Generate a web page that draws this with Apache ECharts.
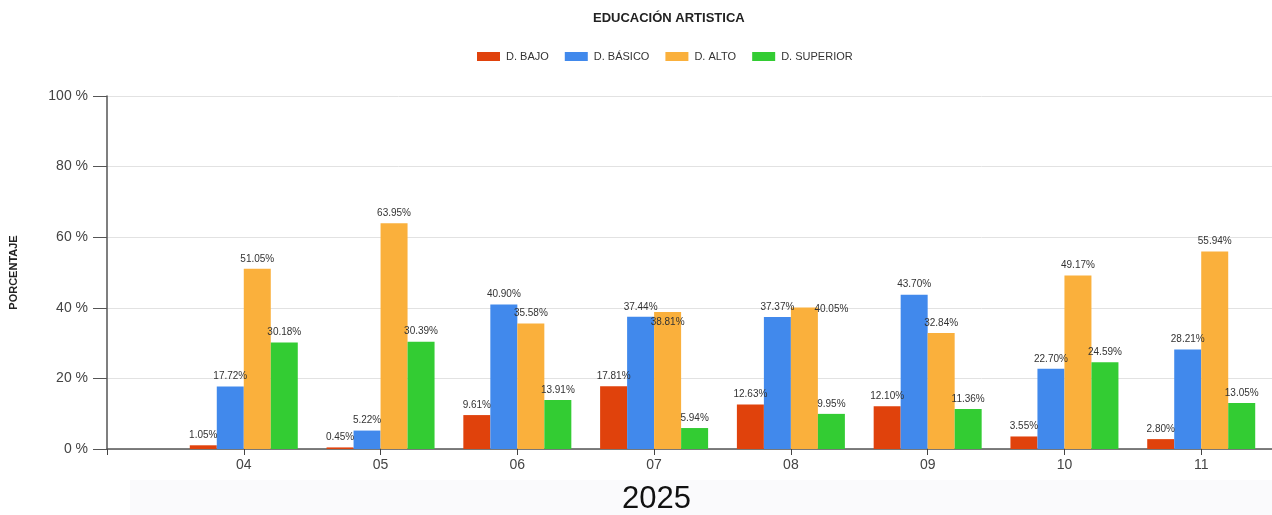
<!DOCTYPE html>
<html>
<head>
<meta charset="utf-8">
<script src="https://cdn.jsdelivr.net/npm/echarts@6/dist/echarts.min.js"></script>
<style>
html,body{margin:0;padding:0;background:#fff;}
#chart{width:1272px;height:515px;}
</style>
</head>
<body>
<div id="chart"></div>
<script>
const categories = ["04", "05", "06", "07", "08", "09", "10", "11"];
const seriesNames = ["D. BAJO", "D. BÁSICO", "D. ALTO", "D. SUPERIOR"];
const bajo     = [1.05, 0.45, 9.61, 17.81, 12.63, 12.10, 3.55, 2.80];
const basico   = [17.72, 5.22, 40.90, 37.44, 37.37, 43.70, 22.70, 28.21];
const alto     = [51.05, 63.95, 35.58, 38.81, 40.05, 32.84, 49.17, 55.94];
const superior = [30.18, 30.39, 13.91, 5.94, 9.95, 11.36, 24.59, 13.05];
const yTicks = [0, 20, 40, 60, 80, 100];
const colors = ["#E0420C", "#4189EC", "#FAB03C", "#33CC33"];

// label collision tweaks (series index, category index, pixel offset)
const labelTweaks = [
  { s: 2, i: 3, offset: [0, 20] },
  { s: 2, i: 4, offset: [27, 12] }
];

const FONT = "Liberation Sans, Arial, sans-serif";
// axis padded with an empty category before and after (as in the original)
const axisData = [""].concat(categories, [""]);
const allValues = [bajo, basico, alto, superior];

const series = allValues.map((vals, s) => {
  const data = [null].concat(vals.map((v, i) => {
    const tw = labelTweaks.find(t => t.s === s && t.i === i);
    if (tw) return { value: v, label: { offset: tw.offset } };
    return v;
  }), [null]);
  return {
    name: seriesNames[s],
    type: "bar",
    data: data,
    barWidth: 27,
    barGap: "0%",
    itemStyle: { color: colors[s] },
    label: {
      show: true,
      position: "top",
      distance: 5,
      fontSize: 10,
      fontFamily: FONT,
      color: "#333",
      formatter: p => (p.value == null ? "" : Number(p.value).toFixed(2) + "%")
    }
  };
});

const chart = echarts.init(document.getElementById("chart"), null, { renderer: "canvas" });
chart.setOption({
  animation: false,
  backgroundColor: "#fff",
  color: colors,
  title: {
    text: "EDUCACIÓN ARTISTICA",
    left: 588,
    top: 7,
    textStyle: { fontSize: 13, fontWeight: "bold", color: "#222", fontFamily: FONT }
  },
  legend: {
    data: seriesNames,
    top: 46,
    left: 472,
    itemWidth: 23,
    itemHeight: 9,
    itemGap: 16,
    icon: "rect",
    textStyle: { fontSize: 11, color: "#333", fontFamily: FONT, padding: [0, 0, 0, 1] }
  },
  grid: { left: 107, top: 96, width: 1231, bottom: 66, containLabel: false, outerBoundsMode: "none" },
  xAxis: {
    type: "category",
    data: axisData,
    boundaryGap: false,
    axisLine: { lineStyle: { color: "#555", width: 1.5 } },
    axisTick: { show: true, length: 6, lineStyle: { color: "#444" }, interval: 0 },
    axisLabel: { fontSize: 14, color: "#444", fontFamily: FONT, margin: 9, interval: 0 },
    splitLine: { show: false }
  },
  yAxis: {
    type: "value",
    min: yTicks[0],
    max: yTicks[yTicks.length - 1],
    interval: 20,
    name: "PORCENTAJE",
    nameLocation: "middle",
    nameGap: 88,
    nameRotate: 90,
    nameTextStyle: { fontSize: 11, fontWeight: "bold", color: "#222", fontFamily: FONT },
    axisLine: { show: true, lineStyle: { color: "#555", width: 1.5 } },
    axisTick: { show: true, length: 14, lineStyle: { color: "#555" } },
    axisLabel: { fontSize: 14, color: "#444", fontFamily: FONT, margin: 19, formatter: v => v + " %" },
    splitLine: { show: true, lineStyle: { color: "#e2e2e2", width: 1 } }
  },
  graphic: [{
    type: "rect",
    silent: true,
    z: -10,
    shape: { x: 130, y: 480, width: 1142, height: 35 },
    style: { fill: "#fafafc" }
  }, {
    type: "text",
    left: 622,
    top: 484,
    style: { text: "2025", fontSize: 31, fill: "#111", fontFamily: FONT }
  }],
  series: series
});
</script>
</body>
</html>
